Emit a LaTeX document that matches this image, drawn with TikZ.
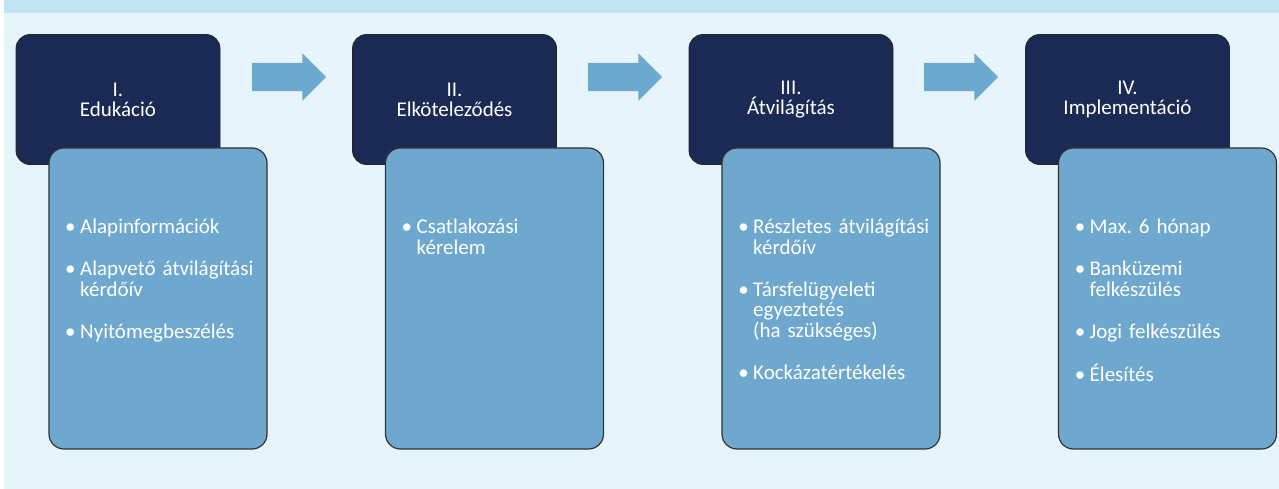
\documentclass[tikz,border=0pt]{standalone}
\usepackage{fontspec}
\setmainfont{Carlito}
\usetikzlibrary{shapes.arrows}
\definecolor{navy}{HTML}{1A2A54}
\definecolor{boxblue}{HTML}{6FA8CE}
\definecolor{arrowblue}{HTML}{6DA8CE}
\definecolor{bgblue}{HTML}{E8F4FB}
\definecolor{bandblue}{HTML}{C1E4F3}
\frenchspacing
\newenvironment{stagelist}{\begin{list}{\textbullet}{%
  \setlength{\leftmargin}{15pt}\setlength{\labelsep}{4.5pt}%
  \setlength{\labelwidth}{10.5pt}\setlength{\itemsep}{21.5pt}%
  \setlength{\parsep}{0pt}\setlength{\topsep}{0pt}\setlength{\partopsep}{0pt}}\raggedright}%
  {\end{list}}
\begin{document}
\begin{tikzpicture}
        [
        x=1pt, y=-1pt,
        title/.style={rectangle, rounded corners=14pt, fill=navy, draw=black!85, line width=0.8pt,
          minimum width=204pt, minimum height=130pt, inner sep=0pt, text=white, align=center,
          font=\fontsize{21}{20}\selectfont},
        detail/.style={rectangle, rounded corners=15pt, fill=boxblue, draw=black!80, line width=1.2pt,
          minimum width=218pt, minimum height=301pt, inner sep=0pt},
        items/.style={anchor=north west, text width=205pt, inner sep=0pt, text=white,
          font=\fontsize{21}{20.5}\selectfont},
        stagearrow/.style={single arrow, fill=arrowblue, draw=none, inner sep=0pt,
          text height=14pt, text depth=14pt, text width=0pt, minimum height=74pt,
          single arrow head extend=9.5pt, single arrow tip angle=90},
        ]
        \useasboundingbox (0,0) rectangle (1279,489);
        \fill[bgblue] (4,0) rectangle (1279,489);
        \fill[bandblue] (4,0) rectangle (1279,13);
        % I.
        \node[title] (t1) at (118,99.5) {I.\\Edukáció};
        \node[detail] (d1) at (158,298.5) {};
        \node[items] (i1) at (65,213) {\begin{stagelist}
            \item Alapinformációk
            \item Alapvető átvilágítási\\kérdőív
            \item Nyitómegbeszélés
          \end{stagelist}};
        % II.
        \node[title] (t2) at (454.5,99.5) {II.\\Elkötelez\H{o}dés};
        \node[detail] (d2) at (494.5,298.5) {};
        \node[items] (i2) at (401.5,213) {\begin{stagelist}
            \item Csatlakozási\\kérelem
          \end{stagelist}};
        % III.
        \node[title] (t3) at (791,99.5) {III.\\Átvilágítás};
        \node[detail] (d3) at (831,298.5) {};
        \node[items] (i3) at (738,213) {\begin{stagelist}
            \item Részletes átvilágítási\\kérdőív
            \item Társfelügyeleti\\egyeztetés\\(ha szükséges)
            \item Kockázatértékelés
          \end{stagelist}};
        % IV.
        \node[title] (t4) at (1127.5,99.5) {IV.\\Implementáció};
        \node[detail] (d4) at (1167.5,298.5) {};
        \node[items] (i4) at (1074.5,213) {\begin{stagelist}
            \item Max. 6 hónap
            \item Banküzemi\\felkészülés
            \item Jogi felkészülés
            \item Élesítés
          \end{stagelist}};
        % arrows
        \node[stagearrow] (a1) at (282,77) {};
        \node[stagearrow] (a2) at (618,77) {};
        \node[stagearrow] (a3) at (954,77) {};
        \end{tikzpicture}
\end{document}
